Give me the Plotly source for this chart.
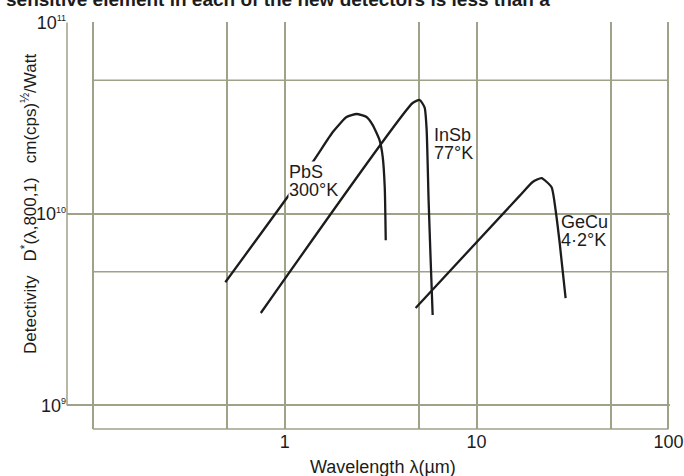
import numpy as np
import plotly.graph_objects as go

# Detectivity curves (wavelength in um, D* in cm Hz^1/2 / W)
pbs_wl = [0.49, 1.40, 1.78, 2.10, 2.37, 2.67, 2.87, 3.12, 3.24, 3.32, 3.36]
pbs_d = [4.4e9, 1.87e10, 2.68e10, 3.21e10, 3.33e10, 3.21e10, 2.92e10, 2.43e10, 1.99e10, 1.38e10, 7.3e9]

insb_wl = [0.75, 4.64, 5.05, 5.36, 5.49, 5.62, 5.76, 5.90]
insb_d = [3.04e9, 3.8e10, 3.94e10, 3.6e10, 2.75e10, 1.18e10, 5.75e9, 2.97e9]

gecu_wl = [4.81, 16.7, 19.6, 21.8, 24.6, 25.8, 27.1, 29.1]
gecu_d = [3.23e9, 1.24e10, 1.47e10, 1.54e10, 1.38e10, 1.05e10, 7.06e9, 3.64e9]

# curve labels: (first line, second line, wavelength, D*, white backing)
labels = [
    ("PbS", "300°K", 1.036, 1.66e10, True),
    ("InSb", "77°K", 5.9, 2.58e10, False),
    ("GeCu", "4·2°K", 27.1, 9.08e9, False),
]

x_grid = [0.1, 0.5, 1, 5, 10, 50, 100]
x_text = ["", "", "1", "", "10", "", "100"]
y_decades = [1e9, 1e10, 1e11]
y_exp = ["9", "10", "11"]
y_halves = [5e9, 5e10]

FONT = "Liberation Sans, Arial, sans-serif"
GRID = "#9fa189"
INK = "#1c1c1c"

fig = go.Figure()
for wl, d in [(pbs_wl, pbs_d), (insb_wl, insb_d), (gecu_wl, gecu_d)]:
    fig.add_trace(go.Scatter(
        x=wl, y=d, mode="lines",
        line=dict(color=INK, width=2.3, shape="spline", smoothing=0.5),
        showlegend=False, hoverinfo="skip"
    ))

# half-decade lines start at the 0.1 um line, not at the axis
for v in y_halves:
    fig.add_shape(type="line", xref="x", yref="y", x0=x_grid[0], x1=x_grid[-1], y0=v, y1=v,
                  line=dict(color=GRID, width=1.5), layer="below")
# bottom edge of the grid box
fig.add_shape(type="line", xref="x", yref="paper", x0=x_grid[0], x1=x_grid[-1], y0=0, y1=0,
              line=dict(color=GRID, width=1.5), layer="below")
# left axis line, 10^9 .. 10^11 only
fig.add_shape(type="line", xref="paper", yref="y", x0=0, x1=0, y0=y_decades[0], y1=y_decades[-1],
              line=dict(color=GRID, width=1.5), layer="below")

for l1, l2, wl, d, bg in labels:
    for i, t in enumerate([l1, l2]):
        fig.add_annotation(
            x=np.log10(wl), y=np.log10(d), xref="x", yref="y",
            text=t, showarrow=False, xanchor="left", yanchor="middle",
            yshift=-18 * i, bgcolor="white" if bg else None, borderpad=0,
            font=dict(family=FONT, size=18, color=INK)
        )

fig.add_annotation(
    x=(383 - 67) / 603, y=(429 - 467) / 407, xref="paper", yref="paper",
    text="Wavelength λ(µm)", showarrow=False, xanchor="center", yanchor="middle",
    font=dict(family=FONT, size=18, color=INK)
)
fig.add_annotation(
    x=(29 - 67) / 603, y=(429 - 204) / 407, xref="paper", yref="paper",
    text="Detectivity   D<sup>*</sup>(λ,800,1)   cm(cps)<sup>½</sup>/Watt",
    showarrow=False, textangle=-90, xanchor="center", yanchor="middle",
    font=dict(family=FONT, size=17, color=INK)
)
# line of page text cut off at the top of the scan
fig.add_annotation(
    x=(4 - 67) / 603, y=(429 + 1) / 407, xref="paper", yref="paper",
    text="<b>sensitive element in each of the new detectors is less than a</b>",
    showarrow=False, xanchor="left", yanchor="middle",
    font=dict(family=FONT, size=19, color=INK)
)

fig.update_xaxes(
    type="log", range=[-1.135, 2.008], tickmode="array", tickvals=x_grid, ticktext=x_text,
    showgrid=True, gridcolor=GRID, gridwidth=1.5, ticks="", showline=False, zeroline=False,
    automargin=False, tickfont=dict(family=FONT, size=18, color=INK)
)
fig.update_yaxes(
    type="log", range=[8.877, 11.003], tickmode="array", tickvals=y_decades,
    ticktext=["10<sup><span style='font-size:9px'>%s</span></sup>" % e for e in y_exp],
    showgrid=True, gridcolor=GRID, gridwidth=1.5, ticks="", showline=False, zeroline=False,
    automargin=False, tickfont=dict(family=FONT, size=18, color=INK)
)
fig.update_layout(
    width=684, height=476,
    margin=dict(l=67, r=14, t=22, b=47, autoexpand=False),
    plot_bgcolor="white", paper_bgcolor="white",
    showlegend=False
)

fig.write_html(
    "out.html",
    config={"displayModeBar": False},
    post_script="document.body.style.margin='0';document.body.style.overflow='hidden';"
)
